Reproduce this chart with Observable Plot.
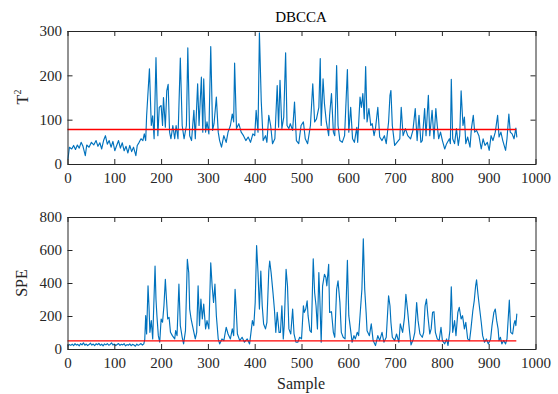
<!DOCTYPE html>
<html><head><meta charset="utf-8">
<script src="https://cdn.jsdelivr.net/npm/d3@7"></script>
<script src="https://cdn.jsdelivr.net/npm/@observablehq/plot@0.6"></script>
<style>
body{margin:0;background:#fff;}
#wrap{position:relative;width:558px;height:394px;font-family:"Liberation Serif","Times New Roman",serif;color:#262626;overflow:hidden;}
#wrap svg, #wrap svg text{font-family:"Liberation Serif","Times New Roman",serif !important;}
#top,#bot{position:absolute;left:0;}
#top{top:0;}
#bot{top:190px;}
.lab{position:absolute;white-space:nowrap;transform:translate(-50%,-50%);}
.rot{transform:translate(-50%,-50%) rotate(-90deg);}
</style></head><body>
<div id="wrap">
<div id="top"></div><div id="bot"></div>
<div class="lab" id="title" style="left:301px;top:17px;font-size:15px;color:#000;">DBCCA</div>
<div class="lab rot" style="left:22px;top:97px;font-size:16px;">T<sup style="font-size:10px;">2</sup></div>
<div class="lab rot" style="left:22px;top:283px;font-size:16px;">SPE</div>
<div class="lab" style="left:301px;top:384px;font-size:16px;">Sample</div>
</div>
<script>
// ---- data ----
const xTicks = [0,100,200,300,400,500,600,700,800,900,1000];
const t2Ticks = [0,100,200,300];
const speTicks = [0,200,400,600,800];
const t2Limit = 79;
const speLimit = 52;
const lastSample = 959;

const t2Sample = [0,3,8,12,16,20,24,28,32,37,40,45,50,55,60,64,68,72,76,80,84,88,92,96,100,104,108,112,116,120,124,128,132,136,140,145,148,152,156,160,163,166,168,174,178,181,184,188,192,195,199,202,204,208,211,214,217,220,224,228,231,235,240,244,248,253,256,260,264,269,272,277,280,285,288,290,294,297,301,305,309,312,317,321,324,328,333,338,342,347,351,354,356,360,365,370,375,380,385,390,395,399,402,406,409,413,417,422,425,429,433,437,442,447,450,453,457,461,465,468,472,475,480,484,488,493,498,503,507,512,518,523,527,531,536,539,541,545,548,552,557,559,563,567,570,574,577,581,586,591,597,600,604,608,612,617,619,624,627,630,633,636,639,643,647,650,654,657,662,666,671,676,680,685,688,690,693,698,703,709,712,716,721,726,732,737,742,746,750,754,757,762,765,770,773,778,782,786,789,792,796,800,805,809,815,817,819,822,826,830,834,837,840,844,847,850,854,859,862,866,869,873,878,883,887,891,896,900,904,908,913,918,921,925,929,935,938,942,945,949,953,957,959];
const t2Value = [13,39,35,43,34,44,37,50,41,20,44,39,50,44,54,41,49,35,54,65,46,54,39,52,31,43,54,37,49,31,41,26,43,29,39,20,43,50,58,54,69,54,110,216,88,110,58,241,65,129,133,88,151,84,166,181,73,58,88,58,88,58,240,88,58,88,263,65,54,122,58,182,88,197,73,193,73,96,69,266,77,92,152,73,54,39,65,50,73,88,114,96,229,81,92,73,65,54,62,50,69,65,122,73,297,141,54,65,50,111,88,47,58,178,84,190,81,107,252,88,81,92,77,141,54,47,88,96,58,47,88,182,96,103,129,239,88,193,137,96,65,111,160,73,65,223,88,54,50,65,214,73,129,58,50,84,50,152,129,160,103,221,96,126,88,92,65,81,129,62,54,65,47,96,156,167,88,43,50,58,129,65,81,65,58,77,126,54,111,50,54,126,65,156,65,122,58,126,88,58,73,54,35,47,58,47,192,58,47,81,43,65,166,88,107,47,62,39,81,111,73,77,65,35,58,43,50,32,65,54,73,111,62,73,54,32,58,114,73,69,58,82,62];

const speSample = [0,3,6,9,12,15,18,21,24,27,30,33,36,39,42,45,48,51,54,57,60,63,66,69,72,75,78,81,84,87,90,93,96,99,102,105,108,111,114,117,120,123,126,129,132,135,138,141,144,147,150,153,156,159,162,164,166,168,171,173,175,178,181,186,188,190,193,196,199,202,205,208,210,213,216,219,223,228,230,233,237,240,244,247,251,255,258,260,263,266,269,272,275,278,281,284,287,290,294,297,301,305,308,311,314,317,321,324,329,333,338,342,347,351,354,357,359,362,367,372,377,383,388,391,394,397,400,403,406,409,412,415,418,422,425,429,431,434,438,441,444,447,451,454,457,460,462,466,469,472,476,480,483,487,491,495,499,503,505,508,511,513,517,520,524,527,530,533,536,538,541,544,548,551,553,557,559,563,567,570,574,577,581,584,588,592,597,600,604,607,611,614,618,621,625,628,631,634,637,639,644,648,652,657,662,666,671,675,680,685,688,690,693,698,702,707,710,715,719,722,726,730,733,738,741,745,748,752,757,760,763,766,769,773,776,779,782,785,789,793,797,800,805,809,812,816,819,822,826,829,833,836,840,843,847,850,854,858,861,865,868,871,873,876,878,883,886,890,894,898,903,906,910,913,916,919,921,924,927,931,935,938,941,943,946,950,953,955,957,959];
const speValue = [22,30,25,33,24,35,27,31,22,36,28,40,26,33,24,30,38,27,33,23,35,29,37,25,32,22,34,28,36,26,31,40,27,33,24,30,36,25,32,28,35,22,30,26,34,23,31,27,20,33,25,30,36,27,34,60,205,94,386,265,104,175,64,506,305,205,84,44,185,165,265,426,325,185,195,104,84,64,114,84,396,145,74,34,114,546,466,245,185,145,104,64,104,386,145,305,185,275,125,175,125,526,386,285,396,205,64,34,64,54,135,94,64,125,84,365,265,94,54,74,44,64,34,104,175,145,285,630,466,245,476,265,155,125,165,476,536,466,345,245,104,225,104,104,265,64,145,486,386,125,94,245,94,44,44,74,64,265,225,245,295,205,114,104,550,345,265,125,466,315,44,386,456,436,386,516,225,229,104,74,365,416,285,104,74,64,540,205,114,44,84,64,104,84,245,365,671,365,225,114,84,155,54,24,84,54,104,44,74,325,265,165,74,54,94,44,155,104,195,335,225,104,28,64,104,285,175,94,74,104,265,305,205,94,125,225,229,104,64,54,135,54,34,64,24,114,380,104,175,84,225,255,185,205,125,165,64,54,125,235,295,386,422,335,285,165,84,44,64,34,64,145,225,245,175,125,54,74,34,54,34,64,205,299,104,94,155,175,145,215];

const INK = "#262626";
const SERIF = "'Liberation Serif', 'Times New Roman', serif";
function panel({samples, values, limit, yDomain, yTicks, height, marginTop, marginBottom}) {
  const W = 558, ML = 67.5, MR = 22.5;
  const innerW = W - ML - MR, innerH = height - marginTop - marginBottom, tk = 5;
  const data = samples.map((s, i) => ({s, v: values[i]}));
  return Plot.plot({
    width: W, height, marginLeft: ML, marginRight: MR, marginTop, marginBottom,
    style: {fontFamily: SERIF, fontSize: "15px", color: INK, background: "transparent", overflow: "visible"},
    x: {domain: [0, 1000]},
    y: {domain: yDomain},
    marks: [
      Plot.line(data, {x: "s", y: "v", stroke: "#0072BD", strokeWidth: 1.15}),
      Plot.ruleY([limit], {y: d => d, x1: 0, x2: lastSample, stroke: "#FF0000", strokeWidth: 1.3}),
      Plot.frame({stroke: INK}),
      Plot.ruleX(xTicks, {x: d => d, insetTop: innerH - tk, stroke: INK}),
      Plot.ruleX(xTicks, {x: d => d, insetBottom: innerH - tk, stroke: INK}),
      Plot.ruleY(yTicks, {y: d => d, insetRight: innerW - tk, stroke: INK}),
      Plot.ruleY(yTicks, {y: d => d, insetLeft: innerW - tk, stroke: INK}),
      Plot.axisX(xTicks, {tickSize: 0, tickPadding: 8, label: null, fill: INK, fontFamily: SERIF, fontSize: 15, tickFormat: d => String(d)}),
      Plot.axisY(yTicks, {tickSize: 0, tickPadding: 6, label: null, fill: INK, fontFamily: SERIF, fontSize: 15, tickFormat: d => String(d)})
    ]
  });
}

document.getElementById("top").append(panel({
  samples: t2Sample, values: t2Value, limit: t2Limit, yDomain: [0, 300], yTicks: t2Ticks,
  height: 190, marginTop: 31, marginBottom: 26
}));
document.getElementById("bot").append(panel({
  samples: speSample, values: speValue, limit: speLimit, yDomain: [0, 800], yTicks: speTicks,
  height: 190, marginTop: 27, marginBottom: 31
}));
</script>
</body></html>
